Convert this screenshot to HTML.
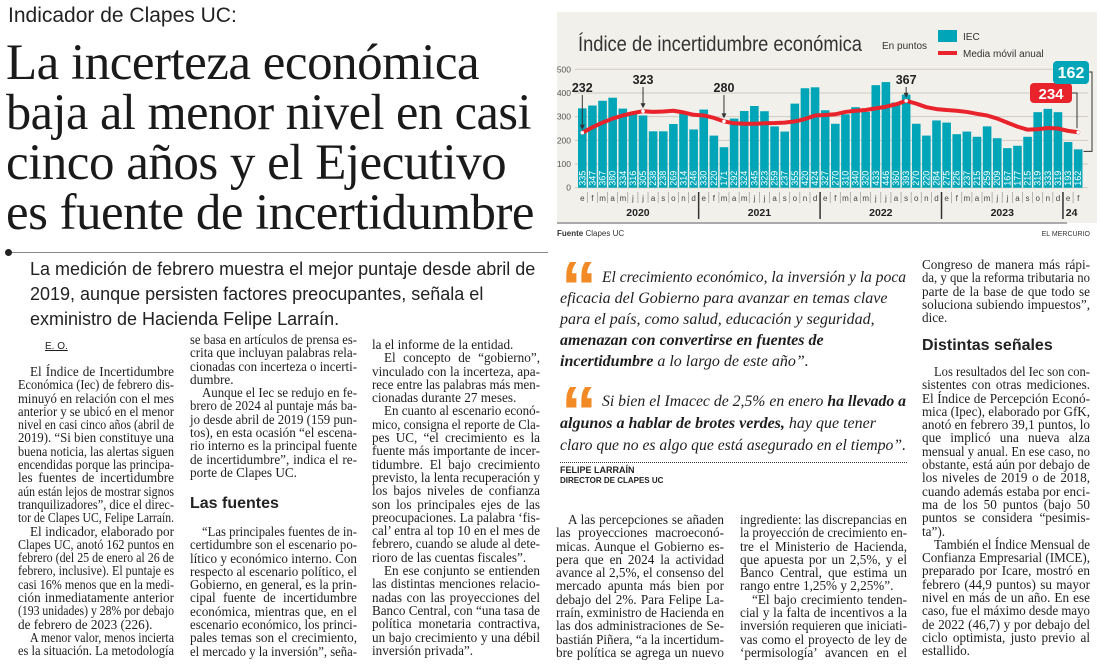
<!DOCTYPE html>
<html><head><meta charset="utf-8">
<style>
html,body{margin:0;padding:0;background:#fff;}
body{width:1100px;height:670px;position:relative;overflow:hidden;color:#1e1e1e;font-family:"Liberation Serif",serif;}
.abs{position:absolute;}
.col{position:absolute;font-size:13.2px;line-height:13.3px;}
.ln{white-space:nowrap;text-align:justify;text-align-last:justify;overflow:visible;height:13.3px;}
.ln.e{text-align-last:left;}
.ln.i{padding-left:12px;}
.hl{position:absolute;left:6px;font-family:"Liberation Serif",serif;font-size:51px;line-height:50px;white-space:nowrap;color:#1a1a1a;letter-spacing:-0.5px;}
.sub{position:absolute;left:30px;font-family:"Liberation Sans",sans-serif;font-size:18px;line-height:25px;white-space:nowrap;color:#222;}
.h2{position:absolute;font-family:"Liberation Sans",sans-serif;font-weight:bold;font-size:16px;color:#222;}
.q{position:absolute;left:560px;width:346px;font-family:"Liberation Serif",serif;font-style:italic;font-size:16px;line-height:21px;white-space:nowrap;color:#1e1e1e;}
.q .ln{height:21px;text-align:left;text-align-last:left;}
.qm{position:absolute;font-family:"Liberation Sans",sans-serif;font-weight:bold;font-size:72px;line-height:56px;color:#f28a25;height:30px;overflow:hidden;letter-spacing:-4px;}
</style></head>
<body>
<div class="abs" style="left:8px;top:4px;font-family:'Liberation Sans',sans-serif;font-size:21px;color:#222;">Indicador de Clapes UC:</div>
<div>
<div class="hl fitw" data-w="525" style="top:38px;">La incerteza económica</div>
<div class="hl fitw" data-w="525" style="top:88px;">baja al menor nivel en casi</div>
<div class="hl fitw" data-w="518" style="top:138px;">cinco años y el Ejecutivo</div>
<div class="hl fitw" data-w="528" style="top:188px;">es fuente de incertidumbre</div>
</div>
<div class="abs" style="left:8px;top:252px;width:540px;height:1px;background:#888;"></div>
<div class="abs" style="left:5px;top:249px;width:7px;height:7px;border-radius:50%;background:#222;"></div>
<div>
<div class="sub fitw" data-w="510" style="top:257px;">La medición de febrero muestra el mejor puntaje desde abril de</div>
<div class="sub" style="top:282px;">2019, aunque persisten factores preocupantes, señala el</div>
<div class="sub" style="top:307px;">exministro de Hacienda Felipe Larraín.</div>
</div>
<div class="abs" style="left:45px;top:341px;font-family:'Liberation Sans',sans-serif;font-size:10px;text-decoration:underline;">E. O.</div>

<div class="col" style="left:18px;top:365px;width:156px;">
<div class="ln i">El Índice de Incertidumbre</div>
<div class="ln">Económica (Iec) de febrero dis-</div>
<div class="ln">minuyó en relación con el mes</div>
<div class="ln">anterior y se ubicó en el menor</div>
<div class="ln">nivel en casi cinco años (abril de</div>
<div class="ln">2019). “Si bien constituye una</div>
<div class="ln">buena noticia, las alertas siguen</div>
<div class="ln">encendidas porque las principa-</div>
<div class="ln">les fuentes de incertidumbre</div>
<div class="ln">aún están lejos de mostrar signos</div>
<div class="ln">tranquilizadores”, dice el direc-</div>
<div class="ln e">tor de Clapes UC, Felipe Larraín.</div>
<div class="ln i">El indicador, elaborado por</div>
<div class="ln">Clapes UC, anotó 162 puntos en</div>
<div class="ln">febrero (del 25 de enero al 26 de</div>
<div class="ln">febrero, inclusive). El puntaje es</div>
<div class="ln">casi 16% menos que en la medi-</div>
<div class="ln">ción inmediatamente anterior</div>
<div class="ln">(193 unidades) y 28% por debajo</div>
<div class="ln e">de febrero de 2023 (226).</div>
<div class="ln i">A menor valor, menos incierta</div>
<div class="ln">es la situación. La metodología</div>
</div>

<div class="col" style="left:190px;top:333px;width:167px;">
<div class="ln">se basa en artículos de prensa es-</div>
<div class="ln">crita que incluyan palabras rela-</div>
<div class="ln">cionadas con incerteza o incerti-</div>
<div class="ln e">dumbre.</div>
<div class="ln i">Aunque el Iec se redujo en fe-</div>
<div class="ln">brero de 2024 al puntaje más ba-</div>
<div class="ln">jo desde abril de 2019 (159 pun-</div>
<div class="ln">tos), en esta ocasión “el escena-</div>
<div class="ln">rio interno es la principal fuente</div>
<div class="ln">de incertidumbre”, indica el re-</div>
<div class="ln e">porte de Clapes UC.</div>
</div>
<div class="h2" style="left:190px;top:495px;">Las fuentes</div>
<div class="col" style="left:190px;top:525px;width:167px;">
<div class="ln i">“Las principales fuentes de in-</div>
<div class="ln">certidumbre son el escenario po-</div>
<div class="ln">lítico y económico interno. Con</div>
<div class="ln">respecto al escenario político, el</div>
<div class="ln">Gobierno, en general, es la prin-</div>
<div class="ln">cipal fuente de incertidumbre</div>
<div class="ln">económica, mientras que, en el</div>
<div class="ln">escenario económico, los princi-</div>
<div class="ln">pales temas son el crecimiento,</div>
<div class="ln">el mercado y la inversión”, seña-</div>
</div>

<div class="col" style="left:372px;top:338px;width:168px;line-height:13.45px;">
<div class="ln e">la el informe de la entidad.</div>
<div class="ln i">El concepto de “gobierno”,</div>
<div class="ln">vinculado con la incerteza, apa-</div>
<div class="ln">rece entre las palabras más men-</div>
<div class="ln e">cionadas durante 27 meses.</div>
<div class="ln i">En cuanto al escenario econó-</div>
<div class="ln">mico, consigna el reporte de Cla-</div>
<div class="ln">pes UC, “el crecimiento es la</div>
<div class="ln">fuente más importante de incer-</div>
<div class="ln">tidumbre. El bajo crecimiento</div>
<div class="ln">previsto, la lenta recuperación y</div>
<div class="ln">los bajos niveles de confianza</div>
<div class="ln">son los principales ejes de las</div>
<div class="ln">preocupaciones. La palabra ‘fis-</div>
<div class="ln">cal’ entra al top 10 en el mes de</div>
<div class="ln">febrero, cuando se alude al dete-</div>
<div class="ln e">rioro de las cuentas fiscales”.</div>
<div class="ln i">En ese conjunto se entienden</div>
<div class="ln">las distintas menciones relacio-</div>
<div class="ln">nadas con las proyecciones del</div>
<div class="ln">Banco Central, con “una tasa de</div>
<div class="ln">política monetaria contractiva,</div>
<div class="ln">un bajo crecimiento y una débil</div>
<div class="ln e">inversión privada”.</div>
</div>

<!-- Chart -->
<svg id="chart" class="abs" style="left:0;top:0;" width="1100" height="245" font-family="'Liberation Sans Narrow','Liberation Sans',sans-serif"></svg>

<!-- Quotes -->
<div class="qm" style="left:561px;top:260px;">“</div>
<div class="q" style="top:267px;">
<div class="ln" style="padding-left:42px;">El crecimiento económico, la inversión y la poca</div>
<div class="ln">eficacia del Gobierno para avanzar en temas clave</div>
<div class="ln">para el país, como salud, educación y seguridad,</div>
<div class="ln"><b>amenazan con convertirse en fuentes de</b></div>
<div class="ln"><b>incertidumbre</b> a lo largo de este año”.</div>
</div>
<div class="qm" style="left:561px;top:385px;">“</div>
<div class="q" style="top:391px;line-height:22px;">
<div class="ln" style="padding-left:42px;height:22px;">Si bien el Imacec de 2,5% en enero <b>ha llevado a</b></div>
<div class="ln" style="height:22px;"><b>algunos a hablar de brotes verdes,</b> hay que tener</div>
<div class="ln" style="height:22px;">claro que no es algo que está asegurado en el tiempo”.</div>
</div>
<div class="abs" style="left:560px;top:462px;width:347px;border-top:1px dotted #333;"></div>
<div class="abs" style="left:560px;top:465px;font-family:'Liberation Sans',sans-serif;font-size:9px;font-weight:bold;line-height:10px;">FELIPE LARRAÍN<br><span style="font-size:8px;">DIRECTOR DE CLAPES UC</span></div>

<div class="col" style="left:556px;top:513px;width:168px;line-height:13px;">
<div class="ln i">A las percepciones se añaden</div>
<div class="ln">las proyecciones macroeconó-</div>
<div class="ln">micas. Aunque el Gobierno es-</div>
<div class="ln">pera que en 2024 la actividad</div>
<div class="ln">avance al 2,5%, el consenso del</div>
<div class="ln">mercado apunta más bien por</div>
<div class="ln">debajo del 2%. Para Felipe La-</div>
<div class="ln">rraín, exministro de Hacienda en</div>
<div class="ln">las dos administraciones de Se-</div>
<div class="ln">bastián Piñera, “a la incertidum-</div>
<div class="ln">bre política se agrega un nuevo</div>
</div>
<div class="col" style="left:740px;top:513px;width:167px;line-height:13px;">
<div class="ln">ingrediente: las discrepancias en</div>
<div class="ln">la proyección de crecimiento en-</div>
<div class="ln">tre el Ministerio de Hacienda,</div>
<div class="ln">que apuesta por un 2,5%, y el</div>
<div class="ln">Banco Central, que estima un</div>
<div class="ln e">rango entre 1,25% y 2,25%”.</div>
<div class="ln i">“El bajo crecimiento tenden-</div>
<div class="ln">cial y la falta de incentivos a la</div>
<div class="ln">inversión requieren que iniciati-</div>
<div class="ln">vas como el proyecto de ley de</div>
<div class="ln">‘permisología’ avancen en el</div>
</div>
<div class="col" style="left:922px;top:258px;width:168px;line-height:14px;">
<div class="ln">Congreso de manera más rápi-</div>
<div class="ln">da, y que la reforma tributaria no</div>
<div class="ln">parte de la base de que todo se</div>
<div class="ln">soluciona subiendo impuestos”,</div>
<div class="ln e">dice.</div>
</div>
<div class="h2" style="left:922px;top:337px;">Distintas señales</div>
<div class="col" style="left:922px;top:365px;width:168px;line-height:13.24px;">
<div class="ln i">Los resultados del Iec son con-</div>
<div class="ln">sistentes con otras mediciones.</div>
<div class="ln">El Índice de Percepción Econó-</div>
<div class="ln">mica (Ipec), elaborado por GfK,</div>
<div class="ln">anotó en febrero 39,1 puntos, lo</div>
<div class="ln">que implicó una nueva alza</div>
<div class="ln">mensual y anual. En ese caso, no</div>
<div class="ln">obstante, está aún por debajo de</div>
<div class="ln">los niveles de 2019 o de 2018,</div>
<div class="ln">cuando además estaba por enci-</div>
<div class="ln">ma de los 50 puntos (bajo 50</div>
<div class="ln">puntos se considera “pesimis-</div>
<div class="ln e">ta”).</div>
<div class="ln i">También el Índice Mensual de</div>
<div class="ln">Confianza Empresarial (IMCE),</div>
<div class="ln">preparado por Icare, mostró en</div>
<div class="ln">febrero (44,9 puntos) su mayor</div>
<div class="ln">nivel en más de un año. En ese</div>
<div class="ln">caso, fue el máximo desde mayo</div>
<div class="ln">de 2022 (46,7) y por debajo del</div>
<div class="ln">ciclo optimista, justo previo al</div>
<div class="ln e">estallido.</div>
</div>

<script>
// ---- chart data ----
const months = ["e","f","m","a","m","j","j","a","s","o","n","d"];
const years = ["2020","2021","2022","2023","24"];
const iecValues = [335,347,367,380,334,316,305,238,238,269,314,246,
  330,220,171,292,324,345,323,259,237,355,420,424,
  327,270,310,340,320,433,446,360,393,270,220,284,
  275,226,237,215,259,209,167,177,215,319,333,319,
  193,162];
const movingAvg = [232,255,275,292,305,315,323,320,322,325,318,308,
  305,295,280,272,270,270,272,273,275,280,290,305,
  307,310,320,325,328,335,342,352,367,355,340,332,
  328,325,320,312,305,292,275,258,245,247,252,250,
  240,234];
const yTicks = [0,100,200,300,400,500];
const annotIdx = [0,6,14,32];

const NS="http://www.w3.org/2000/svg";
const svg=document.getElementById('chart');
function mk(tag,attrs,parent){const e=document.createElementNS(NS,tag);for(const k in attrs)e.setAttribute(k,attrs[k]);(parent||svg).appendChild(e);return e;}
const x0=578, step=10.12, bw=8.6;
const yScale=v=>187.7-v*0.2368;
const xBar=i=>x0+i*step;
const xMid=i=>x0+i*step+bw/2;

let bg=mk('rect',{x:557,y:12,width:540,height:211,fill:'#f2f0eb'});


let t=mk('text',{x:578,y:51,'font-size':21,fill:'#333',textLength:284,lengthAdjust:'spacingAndGlyphs'});
t.textContent='Índice de incertidumbre económica';


t=mk('text',{x:882,y:49,'font-size':10,fill:'#333'});t.textContent='En puntos';


let lg=mk('rect',{x:938,y:30,width:19,height:12,fill:'#00a6b8'});


t=mk('text',{x:963,y:40,'font-size':10,fill:'#333'});t.textContent='IEC';


lg=mk('rect',{x:938,y:51,width:19,height:4,fill:'#e8232b'});


t=mk('text',{x:963,y:57,'font-size':10,fill:'#333'});t.textContent='Media móvil anual';



yTicks.forEach(v=>{
  const g=mk('line',{x1:575,x2:1088,y1:yScale(v),y2:yScale(v),stroke:'#cfcac0','stroke-width':1});
  
  
  const l=mk('text',{x:571,y:yScale(v)+3,'font-size':8.5,fill:'#555','text-anchor':'end'});
  l.textContent=v;
  
  
});

iecValues.forEach((v,i)=>{
  const r=mk('rect',{x:xBar(i),y:yScale(v),width:bw,height:yScale(0)-yScale(v),fill:'#00a6b8'});
  
  
  const tx=xMid(i)+3, ty=yScale(0)-2;
  const l=mk('text',{x:tx,y:ty,'font-size':9,fill:'#fff',transform:`rotate(-90 ${tx} ${ty})`});
  l.textContent=v;
  
  
  const ml=mk('text',{x:xMid(i),y:201,'font-size':8,fill:'#444','text-anchor':'middle'});
  ml.textContent=months[i%12];
  
  
  if(i>0){
    const yr=i%12===0;
    const s=mk('line',{x1:xBar(i)-0.8,x2:xBar(i)-0.8,y1:192,y2:yr?219:203,stroke:yr?'#333':'#999','stroke-width':yr?1.5:0.7});
    
    
  }
});
years.forEach((y,k)=>{
  const n=Math.min(12,iecValues.length-k*12);
  const cx=k===4?xBar(48)+2:(xBar(k*12)+xBar(k*12+n-1)+bw)/2;
  const l=mk('text',{x:cx,y:216,'font-size':10.5,'font-weight':'bold',fill:'#222','text-anchor':k===4?'start':'middle'});
  l.textContent=y;
  
  
});

const pts=movingAvg.map((v,i)=>xMid(i)+','+yScale(v)).join(' ');
const pl=mk('polyline',{points:pts,fill:'none',stroke:'#e8232b','stroke-width':4,'stroke-linejoin':'round','stroke-linecap':'round'});



annotIdx.forEach(i=>{
  const x=xMid(i), y=yScale(movingAvg[i]);
  const ly=movingAvg[i]<290?92:84;
  const c=mk('circle',{cx:x,cy:y,r:1.8,fill:'#fff'});
  
  
  const a=mk('line',{x1:x,x2:x,y1:ly+3,y2:y-4,stroke:'#333','stroke-width':1});
  
  
  const h=mk('path',{d:`M${x-2.5},${y-8} L${x},${y-3} L${x+2.5},${y-8}Z`,fill:'#333'});
  
  
  const l=mk('text',{x:x,y:ly,'font-size':12.5,'font-weight':'bold',fill:'#222','text-anchor':'middle'});
  l.textContent=movingAvg[i];
  
  
});
// end badges
const li=movingAvg.length-1, bi=iecValues.length-1;
const ex=xMid(li), ey=yScale(movingAvg[li]);
let m=mk('circle',{cx:ex,cy:ey,r:1.8,fill:'#fff'});


let p=mk('path',{d:`M1072,93 L1077,93 L1077,${ey-4}`,fill:'none',stroke:'#333','stroke-width':1});


let b=mk('rect',{x:1030,y:83,width:42,height:20,rx:4,fill:'#e8232b'});


t=mk('text',{x:1051,y:99,'font-size':15,'font-weight':'bold',fill:'#fff','text-anchor':'middle'});
t.textContent=movingAvg[li];


p=mk('path',{d:`M1088,72 L1092,72 L1092,${yScale(iecValues[bi])+2} L${xBar(bi)+bw+1},${yScale(iecValues[bi])+2}`,fill:'none',stroke:'#333','stroke-width':1});


b=mk('rect',{x:1053,y:61,width:36,height:23,rx:4,fill:'#00a6b8'});


t=mk('text',{x:1071,y:78,'font-size':16,'font-weight':'bold',fill:'#fff','text-anchor':'middle'});
t.textContent=iecValues[bi];



let rl=mk('rect',{x:557,y:222,width:510,height:2,fill:'#aaa'});


t=mk('text',{x:557,y:236,'font-size':8,fill:'#333'});
t.innerHTML='<tspan font-weight="bold">Fuente</tspan>  Clapes UC';


t=mk('text',{x:1090,y:236,'font-size':7,fill:'#333','text-anchor':'end'});
t.textContent='EL MERCURIO';



// fit text lines
document.querySelectorAll('.ln, .fitw').forEach(el=>{
  const w=el.dataset.w?parseFloat(el.dataset.w):el.clientWidth;
  const span=document.createElement('span');
  span.style.display='inline-block';
  span.style.whiteSpace='nowrap';
  while(el.firstChild)span.appendChild(el.firstChild);
  el.appendChild(span);
  const pad=parseFloat(getComputedStyle(el).paddingLeft)||0;
  const avail=(el.dataset.w?w:w-pad);
  const nat=span.getBoundingClientRect().width;
  if(nat>avail){
    span.style.transformOrigin='left center';
    span.style.transform='scaleX('+(avail/nat)+')';
  } else if(el.classList.contains('ln') && !el.classList.contains('e') && !el.closest('.q')){
    const words=(span.textContent.match(/ /g)||[]).length;
    if(words>0) span.style.wordSpacing=((avail-nat)/words)+'px';
  }
});
</script>
</body></html>
